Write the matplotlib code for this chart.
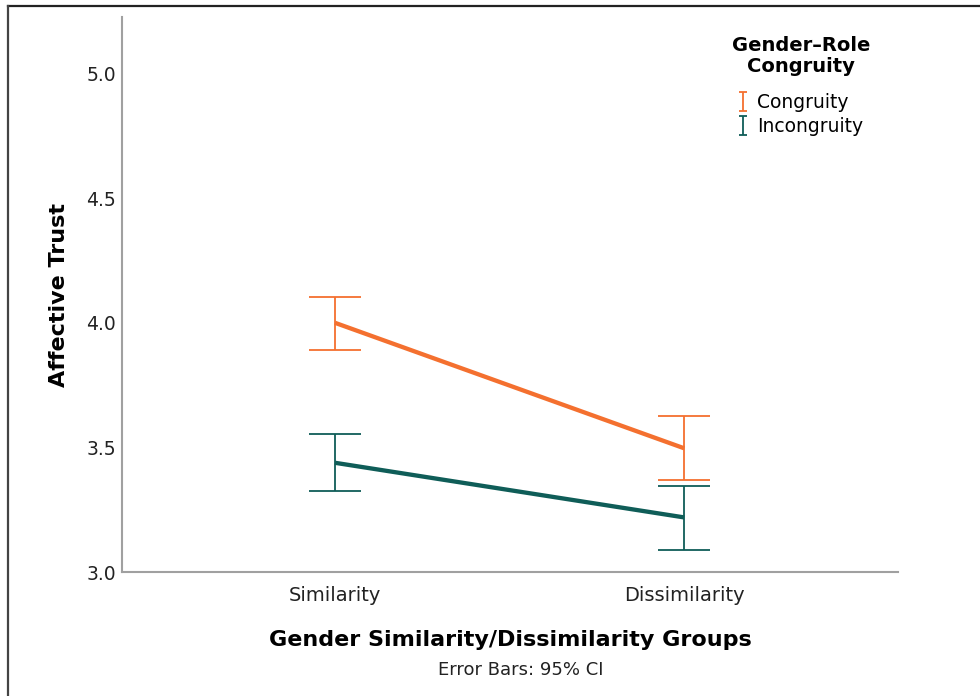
import numpy as np
import matplotlib.pyplot as plt
from matplotlib.lines import Line2D

groups = ["Similarity", "Dissimilarity"]
conditions = ["Congruity", "Incongruity"]
means = {"Congruity": [4.00, 3.497], "Incongruity": [3.439, 3.220]}
ci_low = {"Congruity": [3.891, 3.369], "Incongruity": [3.326, 3.091]}
ci_high = {"Congruity": [4.105, 3.628], "Incongruity": [3.554, 3.346]}
colors = {"Congruity": "#f4702f", "Incongruity": "#0f5d58"}
yticks = [3.0, 3.5, 4.0, 4.5, 5.0]

plt.rcParams['font.family'] = ['DejaVu Sans']

fig = plt.figure(figsize=(9.8, 6.96), dpi=100)
ax = fig.add_axes([0.1245, 0.1777, 0.7918, 0.7979])

x = list(range(len(groups)))
handles = []
for cond in conditions:
    m = means[cond]
    lo = [a - b for a, b in zip(m, ci_low[cond])]
    hi = [b - a for a, b in zip(m, ci_high[cond])]
    ax.plot(x, m, color=colors[cond], lw=3.1, solid_capstyle='butt', zorder=3)
    ax.errorbar(x, m, yerr=[lo, hi], fmt='none', ecolor=colors[cond],
                elinewidth=1.3, capsize=18.5, capthick=1.3, zorder=2)
    # small proxy bar for the legend
    proxy = ax.errorbar([np.nan], [np.nan], yerr=[[0.1], [0.1]], fmt='none',
                        ecolor=colors[cond], elinewidth=1.3, capsize=3,
                        capthick=1.3)
    handles.append(proxy)

ax.set_xlim(-0.6098, 1.612)
ax.set_ylim(3.0, 5.2257)
ax.set_xticks(x)
ax.set_xticklabels(groups)
ax.set_yticks(yticks)
ax.set_yticklabels([f"{v:.1f}" for v in yticks])
ax.tick_params(length=0, labelsize=13.5, labelcolor='#222222')
ax.tick_params(axis='x', pad=10, labelsize=14)
ax.tick_params(axis='y', pad=4.5)

for side in ['top', 'right']:
    ax.spines[side].set_visible(False)
for side in ['left', 'bottom']:
    ax.spines[side].set_color('#a0a0a0')
    ax.spines[side].set_linewidth(1.5)

ax.set_ylabel("Affective Trust", fontsize=16, fontweight='bold', labelpad=12)
ax.set_xlabel("Gender Similarity/Dissimilarity Groups", fontsize=16,
              fontweight='bold', labelpad=18)

# legend title as its own centred text, entries below it
ax.text(0.875, 0.9297, "Gender\u2013Role\nCongruity", transform=ax.transAxes,
        ha='center', va='center', multialignment='center', fontsize=14,
        fontweight='bold', linespacing=1.15)
ax.legend(handles, conditions, loc='upper left', bbox_to_anchor=(0.772, 0.894),
          frameon=False, fontsize=13.5, handlelength=0.5, handletextpad=0.5,
          labelspacing=0.27)

fig.text(0.531, 0.037, "Error Bars: 95% CI", ha='center', va='center',
         fontsize=13, color='#222222')

# outer frame, top and left edges only
fig.add_artist(Line2D([0.0085, 1.0], [0.9914, 0.9914], color='#222222', lw=1.6,
                      transform=fig.transFigure))
fig.add_artist(Line2D([0.0085, 0.0085], [0.0, 0.9914], color='#444444', lw=1.6,
                      transform=fig.transFigure))

fig.savefig("out.png", dpi=100)
